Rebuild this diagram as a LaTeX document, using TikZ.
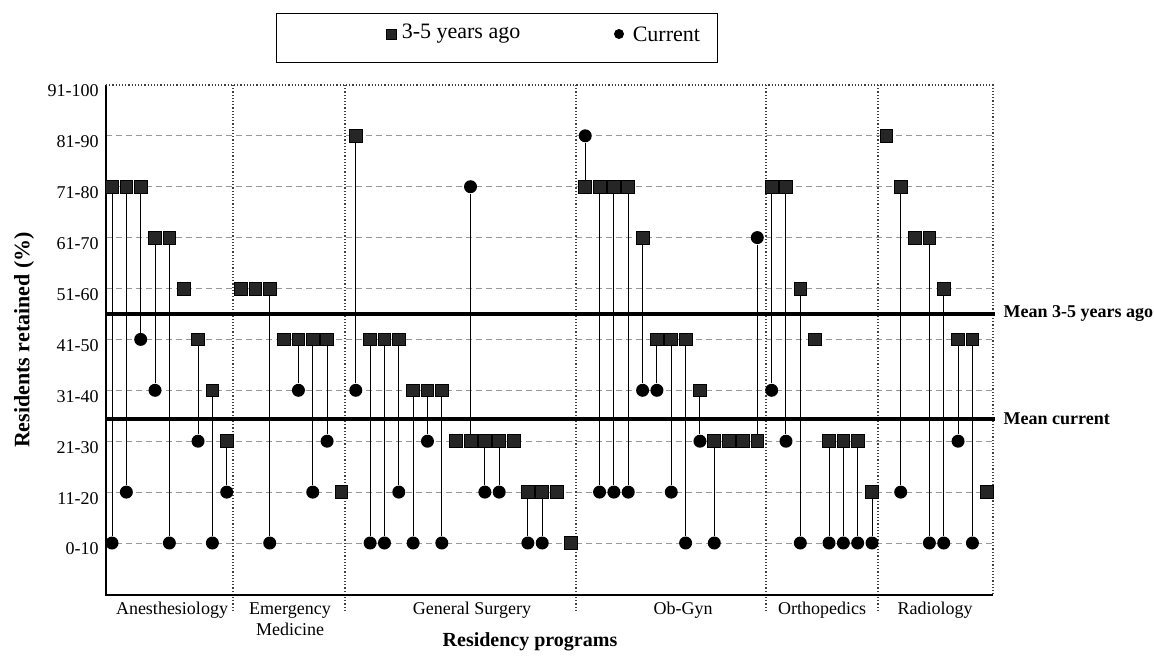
\documentclass[tikz,border=0pt]{standalone}
\usepackage{fontspec}
\setmainfont{Liberation Serif}
\usetikzlibrary{positioning}

\begin{document}
\begin{tikzpicture}[x=0.5pt, y=-0.5pt,
  prevpt/.style={draw=black, fill=black!85, rectangle, minimum size=6.4pt, inner sep=0pt},
  curpt/.style={fill=black, circle, minimum size=6.5pt, inner sep=0pt},
  stem/.style={black, line width=0.5pt},
  gridline/.style={gray!80, densely dashed, line width=0.4pt},
  divider/.style={black!75, densely dotted, line width=0.6pt},
  axisline/.style={black, line width=0.6pt},
  meanline/.style={black, line width=1.6pt},
  meanlab/.style={font=\fontsize{9}{11}\selectfont\bfseries, anchor=west, inner sep=1pt, xshift=2.5pt},
  ticklab/.style={font=\fontsize{9}{10}\selectfont, anchor=east, inner sep=1pt},
  catlab/.style={font=\fontsize{9}{10.8}\selectfont, align=center, anchor=north, inner sep=1pt},
  legtext/.style={font=\fontsize{11}{13}\selectfont, inner sep=1pt}
]
\useasboundingbox (0,0) rectangle (1154,658);

% legend
\node[draw, line width=0.5pt, minimum width=220.5pt, minimum height=24.5pt] (legend) at (496.5,38.5) {};
\node[prevpt, minimum size=5pt] (legsq) at (391,34) {};
\node[legtext, right=1.5pt of legsq] (legprev) {3-5 years ago};
\node[curpt, minimum size=5pt] (legci) at (619,34) {};
\node[legtext, right=3pt of legci] (legcur) {Current};

% grid and frame
\foreach \k in {0,...,8}
  \draw[gridline] (106,{543-50.9*\k}) -- (993,{543-50.9*\k});
\foreach \xd in {233,345,576,766,878}
  \draw[divider] (\xd,85) -- (\xd,612);
\draw[axisline] (993,595) -- (106,595) -- (106,85);
\draw[divider] (106,85) -- (993,85) -- (993,595);

% y ticks
\foreach \lab [count=\k from 0] in {0-10,11-20,21-30,31-40,41-50,51-60,61-70,71-80,81-90,91-100}
  \node[ticklab] (tick\k) at (101,{549-50.9*\k}) {\lab};

% residents: 3-5 years ago / current
\foreach \pv/\cv [count=\i from 0] in {7/0,7/1,7/4,6/3,6/0,5/5,4/2,3/0,2/1,
    5/5,5/5,5/0,4/4,4/3,4/1,4/2,1/1,
    8/3,4/0,4/0,4/1,3/0,3/2,3/0,2/2,2/7,2/1,2/1,2/2,1/0,1/0,1/1,0/0,
    7/8,7/1,7/1,7/1,6/3,4/3,4/1,4/0,3/2,2/0,2/2,2/2,2/6,
    7/3,7/2,5/0,4/4,2/0,2/0,2/0,1/0,
    8/8,7/1,6/6,6/0,5/0,4/2,4/0,1/1}{
  \pgfmathsetmacro\xp{112+14.34*\i}
  \node[prevpt] (sq\i) at (\xp,{543-50.9*\pv}) {};
  \ifnum\pv=\cv\else
    \node[curpt] (ci\i) at (\xp,{543-50.9*\cv}) {};
    \draw[stem] (sq\i) -- (ci\i);
  \fi
}

% means
\draw[meanline] (106,314) -- (995,314) node[meanlab] (mprev) {Mean 3-5 years ago};
\draw[meanline] (106,419) -- (995,419) node[meanlab] (mcur) {Mean current};

% programs
\node[catlab] (anes) at (172,600) {Anesthesiology};
\node[catlab] (emed) at (290,600) {Emergency\\Medicine};
\node[catlab] (gsurg) at (472,600) {General Surgery};
\node[catlab] (obgyn) at (683,600) {Ob-Gyn};
\node[catlab] (ortho) at (822,600) {Orthopedics};
\node[catlab] (radio) at (935,600) {Radiology};

% axis titles
\node[font=\fontsize{10}{12}\selectfont\bfseries] (xtitle) at (530,642) {Residency programs};
\node[font=\fontsize{11}{13}\selectfont\bfseries, rotate=90] (ytitle) at (24,340) {Residents retained (\%)};
\end{tikzpicture}
\end{document}
